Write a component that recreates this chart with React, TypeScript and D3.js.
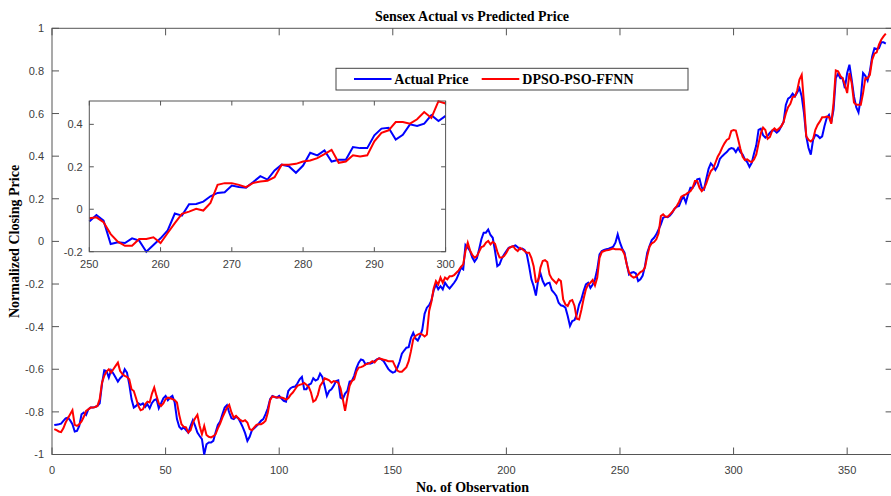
import React from "react";
import * as d3 from "d3";

// observations 1..367, normalized closing price
const actualPrice = [
  -0.862, -0.86, -0.858, -0.855, -0.842, -0.83, -0.827, -0.84, -0.858, -0.892,
  -0.889, -0.866, -0.811, -0.803, -0.814, -0.788, -0.78, -0.78, -0.777, -0.772,
  -0.76, -0.67, -0.605, -0.608, -0.639, -0.605, -0.62, -0.639, -0.658, -0.642,
  -0.631, -0.6, -0.616, -0.67, -0.74, -0.78, -0.772, -0.76, -0.767, -0.76,
  -0.777, -0.764, -0.783, -0.758, -0.745, -0.74, -0.783, -0.76, -0.736, -0.725,
  -0.745, -0.733, -0.725, -0.756, -0.834, -0.87, -0.881, -0.873, -0.886, -0.897,
  -0.866, -0.839, -0.866, -0.897, -0.913, -0.928, -1.0, -0.952, -0.944, -0.944,
  -0.936, -0.897, -0.861, -0.845, -0.811, -0.78, -0.769, -0.803, -0.83, -0.834,
  -0.823, -0.83, -0.85, -0.873, -0.9, -0.936, -0.917, -0.886, -0.877, -0.866,
  -0.855, -0.842, -0.834, -0.811, -0.783, -0.74, -0.725, -0.73, -0.733, -0.725,
  -0.738, -0.748, -0.752, -0.702, -0.689, -0.683, -0.681, -0.667, -0.647, -0.636,
  -0.694, -0.694, -0.673, -0.667, -0.642, -0.653, -0.647, -0.62, -0.636, -0.678,
  -0.725, -0.702, -0.694, -0.678, -0.655, -0.652, -0.733, -0.74, -0.714, -0.702,
  -0.658, -0.655, -0.631, -0.595, -0.569, -0.554, -0.558, -0.577, -0.571, -0.574,
  -0.57, -0.562, -0.554, -0.549, -0.554, -0.562, -0.58, -0.598, -0.609, -0.616,
  -0.612, -0.593, -0.565, -0.527, -0.512, -0.499, -0.496, -0.452, -0.429, -0.455,
  -0.465, -0.444, -0.413, -0.34, -0.311, -0.299, -0.277, -0.23, -0.202, -0.225,
  -0.21, -0.225, -0.194, -0.21, -0.221, -0.208, -0.194, -0.178, -0.152, -0.123,
  -0.131, -0.017, -0.03, -0.045, -0.076, -0.095, -0.08, -0.037, 0.01, 0.041,
  0.041, 0.056, 0.03, 0.017, -0.045, -0.116, -0.108, -0.08, -0.061, -0.045,
  -0.03, -0.026, -0.022, -0.019, -0.027, -0.037, -0.034, -0.04, -0.061, -0.116,
  -0.178, -0.21, -0.254, -0.181, -0.15, -0.186, -0.207, -0.197, -0.194, -0.229,
  -0.241, -0.256, -0.288, -0.3, -0.303, -0.311, -0.35, -0.397, -0.374, -0.369,
  -0.343, -0.296, -0.272, -0.233, -0.202, -0.194, -0.218, -0.202, -0.178, -0.131,
  -0.061, -0.045, -0.04, -0.037, -0.034, -0.03, -0.025, -0.006, 0.033, -0.006,
  -0.034, -0.053, -0.108, -0.155, -0.147, -0.144, -0.15, -0.186, -0.178, -0.16,
  -0.116, -0.053, -0.022, 0.006, 0.017, 0.033, 0.056, 0.08, 0.111, 0.116,
  0.114, 0.122, 0.135, 0.153, 0.163, 0.166, 0.194, 0.21, 0.182, 0.221,
  0.252, 0.252, 0.268, 0.291, 0.294, 0.252, 0.244, 0.294, 0.341, 0.366,
  0.354, 0.335, 0.354, 0.388, 0.4, 0.41, 0.419, 0.432, 0.438, 0.435,
  0.419, 0.438, 0.419, 0.408, 0.385, 0.372, 0.35, 0.369, 0.413, 0.451,
  0.523, 0.529, 0.498, 0.487, 0.495, 0.51, 0.52, 0.52, 0.51, 0.52,
  0.54, 0.56, 0.64, 0.67, 0.677, 0.693, 0.68, 0.699, 0.719, 0.68,
  0.602, 0.493, 0.438, 0.407, 0.477, 0.5, 0.496, 0.485, 0.493, 0.54,
  0.579, 0.593, 0.558, 0.618, 0.766, 0.787, 0.766, 0.766, 0.719, 0.79,
  0.829, 0.759, 0.68, 0.63, 0.605, 0.673, 0.79, 0.777, 0.755, 0.798,
  0.868, 0.906, 0.903, 0.907, 0.934, 0.934, 0.928,
];

const predictedPrice = [
  -0.881, -0.886, -0.892, -0.895, -0.877, -0.85, -0.83, -0.811, -0.792, -0.861,
  -0.866, -0.858, -0.845, -0.823, -0.795, -0.788, -0.78, -0.78, -0.777, -0.772,
  -0.74, -0.663, -0.631, -0.611, -0.6, -0.616, -0.6, -0.584, -0.569, -0.608,
  -0.623, -0.631, -0.636, -0.647, -0.694, -0.702, -0.736, -0.772, -0.792, -0.788,
  -0.764, -0.752, -0.756, -0.714, -0.686, -0.725, -0.76, -0.772, -0.76, -0.74,
  -0.733, -0.736, -0.74, -0.745, -0.756, -0.814, -0.858, -0.87, -0.873, -0.897,
  -0.886, -0.85, -0.83, -0.814, -0.866, -0.905, -0.866, -0.908, -0.917, -0.92,
  -0.914, -0.905, -0.877, -0.855, -0.827, -0.803, -0.78, -0.767, -0.803, -0.827,
  -0.819, -0.83, -0.839, -0.845, -0.839, -0.85, -0.881, -0.886, -0.873, -0.861,
  -0.858, -0.858, -0.852, -0.842, -0.803, -0.745, -0.727, -0.73, -0.733, -0.733,
  -0.733, -0.736, -0.742, -0.736, -0.72, -0.709, -0.694, -0.678, -0.673, -0.67,
  -0.664, -0.673, -0.683, -0.709, -0.752, -0.745, -0.72, -0.678, -0.663, -0.642,
  -0.647, -0.652, -0.663, -0.655, -0.658, -0.663, -0.689, -0.74, -0.795, -0.733,
  -0.678, -0.655, -0.647, -0.611, -0.592, -0.59, -0.585, -0.577, -0.574, -0.57,
  -0.562, -0.568, -0.555, -0.549, -0.552, -0.555, -0.558, -0.562, -0.562, -0.562,
  -0.585, -0.606, -0.612, -0.612, -0.601, -0.59, -0.562, -0.515, -0.46, -0.444,
  -0.437, -0.433, -0.437, -0.446, -0.437, -0.327, -0.283, -0.221, -0.186, -0.202,
  -0.17, -0.194, -0.17, -0.178, -0.163, -0.163, -0.158, -0.147, -0.136, -0.12,
  -0.108, -0.045, -0.006, -0.042, -0.064, -0.076, -0.069, -0.048, -0.026, -0.022,
  -0.006, 0.002, -0.014, -0.002, -0.011, -0.048, -0.076, -0.076, -0.069, -0.053,
  -0.033, -0.026, -0.022, -0.037, -0.045, -0.03, -0.037, -0.045, -0.053, -0.053,
  -0.077, -0.116, -0.19, -0.186, -0.123, -0.092, -0.088, -0.097, -0.155, -0.175,
  -0.186, -0.197, -0.178, -0.186, -0.272, -0.296, -0.303, -0.28, -0.275, -0.303,
  -0.363, -0.366, -0.322, -0.269, -0.225, -0.202, -0.194, -0.181, -0.207, -0.17,
  -0.077, -0.05, -0.045, -0.042, -0.04, -0.037, -0.034, -0.037, -0.037, -0.037,
  -0.04, -0.061, -0.108, -0.147, -0.163, -0.17, -0.166, -0.155, -0.144, -0.139,
  -0.123, -0.069, -0.025, -0.009, -0.003, 0.01, 0.038, 0.119, 0.127, 0.116,
  0.116, 0.127, 0.138, 0.153, 0.166, 0.185, 0.21, 0.216, 0.221, 0.229,
  0.235, 0.252, 0.283, 0.283, 0.252, 0.236, 0.247, 0.272, 0.304, 0.33,
  0.341, 0.369, 0.397, 0.416, 0.44, 0.46, 0.476, 0.482, 0.518, 0.523,
  0.52, 0.479, 0.435, 0.397, 0.382, 0.385, 0.377, 0.372, 0.385, 0.408,
  0.46, 0.507, 0.534, 0.523, 0.482, 0.49, 0.52, 0.53, 0.52, 0.53,
  0.54, 0.56, 0.6, 0.63, 0.646, 0.677, 0.68, 0.708, 0.759, 0.782,
  0.649, 0.493, 0.477, 0.469, 0.48, 0.524, 0.547, 0.563, 0.583, 0.583,
  0.586, 0.583, 0.552, 0.649, 0.802, 0.798, 0.777, 0.766, 0.735, 0.696,
  0.79, 0.743, 0.652, 0.641, 0.641, 0.641, 0.696, 0.766, 0.766, 0.782,
  0.852, 0.881, 0.887, 0.923, 0.946, 0.962, 0.975,
];

// zoomed view, observations 250..300
const insetActual = [
  -0.058, -0.027, -0.054, -0.164, -0.156, -0.159, -0.137, -0.148, -0.2, -0.168,
  -0.137, -0.1, -0.02, -0.03, 0.024, 0.025, 0.036, 0.061, 0.077, 0.08,
  0.112, 0.105, 0.102, 0.128, 0.156, 0.14, 0.183, 0.21, 0.203, 0.172,
  0.206, 0.266, 0.254, 0.277, 0.225, 0.233, 0.233, 0.293, 0.288, 0.288,
  0.348, 0.38, 0.384, 0.328, 0.351, 0.4, 0.392, 0.403, 0.443, 0.416,
  0.44,
];

const insetPredicted = [
  -0.042, -0.038, -0.061, -0.117, -0.153, -0.172, -0.172, -0.14, -0.14, -0.132,
  -0.159, -0.112, -0.065, -0.022, -0.011, 0.002, -0.006, 0.03, 0.115, 0.123,
  0.123, 0.115, 0.104, 0.124, 0.131, 0.134, 0.151, 0.21, 0.21, 0.214,
  0.225, 0.23, 0.241, 0.26, 0.28, 0.219, 0.225, 0.254, 0.249, 0.254,
  0.32, 0.36, 0.372, 0.411, 0.411, 0.403, 0.424, 0.458, 0.43, 0.509,
  0.498,
];

const xTicks = [0, 50, 100, 150, 200, 250, 300, 350];
const yTicks = [-1, -0.8, -0.6, -0.4, -0.2, 0, 0.2, 0.4, 0.6, 0.8, 1];
const insetXTicks = [250, 260, 270, 280, 290, 300];
const insetYTicks = [-0.2, 0, 0.2, 0.4];

const W = 891;
const H = 496;
const axisColor = "#555";
const labelColor = "#404040";
const sans = "'Liberation Sans', Arial, sans-serif";
const serif = "'Liberation Serif', 'Times New Roman', serif";
const lw = 2;

const fmt = (d: number) => `${+d.toFixed(1)}`;

const App = () => {
  const x = d3.scaleLinear().domain([0, 370]).range([52, 892.6]);
  const y = d3.scaleLinear().domain([-1, 1]).range([454.5, 28.3]);
  const ix = d3.scaleLinear().domain([250, 300]).range([89.3, 445.6]);
  const iy = d3.scaleLinear().domain([-0.2, 0.51]).range([251.7, 101]);

  const mainLine = d3
    .line<number>()
    .x((_, i) => x(i + 1))
    .y((d) => y(d));
  const insetLine = d3
    .line<number>()
    .x((_, i) => ix(250 + i))
    .y((d) => iy(d));

  const [x0, x1] = x.range();
  const [y0, y1] = y.range();
  const [ix0, ix1] = ix.range();
  const [iy0, iy1] = iy.range();
  const tick = 7;
  const itick = 4.5;

  return (
    <div style={{ position: "absolute", left: 0, top: 0 }}>
      <svg width={W} height={H} style={{ display: "block", background: "#fff" }}>
        {/* main axes */}
        <g>
          {xTicks.map((t) => (
            <g key={"x" + t}>
              <line x1={x(t)} x2={x(t)} y1={y0} y2={y0 - tick} stroke={axisColor} />
              <line x1={x(t)} x2={x(t)} y1={y1} y2={y1 + tick} stroke={axisColor} />
              <text x={x(t)} y={474} textAnchor="middle" fontFamily={sans} fontSize={11} fill={labelColor}>
                {fmt(t)}
              </text>
            </g>
          ))}
          {yTicks.map((t) => (
            <g key={"y" + t}>
              <line x1={x0} x2={x0 + tick} y1={y(t)} y2={y(t)} stroke={axisColor} />
              <line x1={x1} x2={x1 - tick} y1={y(t)} y2={y(t)} stroke={axisColor} />
              <text x={44} y={y(t)} dy="0.36em" textAnchor="end" fontFamily={sans} fontSize={11} fill={labelColor}>
                {fmt(t)}
              </text>
            </g>
          ))}
          <rect x={x0} y={y1} width={x1 - x0} height={y0 - y1} fill="none" stroke={axisColor} />
        </g>

        <path d={mainLine(actualPrice) ?? ""} fill="none" stroke="#0000ff" strokeWidth={lw} />
        <path d={mainLine(predictedPrice) ?? ""} fill="none" stroke="#ff0000" strokeWidth={lw} />

        {/* titles */}
        <text x={472} y={21} textAnchor="middle" fontFamily={serif} fontWeight="bold" fontSize={14} fill="#000">
          Sensex Actual vs Predicted Price
        </text>
        <text x={472.5} y={492} textAnchor="middle" fontFamily={serif} fontWeight="bold" fontSize={14} fill="#000">
          No. of Observation
        </text>
        <text
          transform="translate(19,241.5) rotate(-90)"
          textAnchor="middle"
          fontFamily={serif}
          fontWeight="bold"
          fontSize={14}
          fill="#000"
        >
          Normalized Closing Price
        </text>

        {/* legend */}
        <g>
          <rect x={336} y={68.3} width={352} height={21.7} fill="#fff" stroke="#444" />
          <line x1={354} x2={391.5} y1={79} y2={79} stroke="#0000ff" strokeWidth={lw} />
          <text x={394.3} y={84} fontFamily={serif} fontWeight="bold" fontSize={14} fill="#000">
            Actual Price
          </text>
          <line x1={481.7} x2={519.3} y1={79} y2={79} stroke="#ff0000" strokeWidth={lw} />
          <text x={522.3} y={84} fontFamily={serif} fontWeight="bold" fontSize={14} fill="#000">
            DPSO-PSO-FFNN
          </text>
        </g>

        {/* inset */}
        <g>
          <rect x={ix0} y={iy1} width={ix1 - ix0} height={iy0 - iy1} fill="#fff" />
          {insetXTicks.map((t) => (
            <g key={"ix" + t}>
              <line x1={ix(t)} x2={ix(t)} y1={iy0} y2={iy0 - itick} stroke={axisColor} />
              <line x1={ix(t)} x2={ix(t)} y1={iy1} y2={iy1 + itick} stroke={axisColor} />
              <text x={ix(t)} y={268} textAnchor="middle" fontFamily={sans} fontSize={11} fill={labelColor}>
                {fmt(t)}
              </text>
            </g>
          ))}
          {insetYTicks.map((t) => (
            <g key={"iy" + t}>
              <line x1={ix0} x2={ix0 + itick} y1={iy(t)} y2={iy(t)} stroke={axisColor} />
              <line x1={ix1} x2={ix1 - itick} y1={iy(t)} y2={iy(t)} stroke={axisColor} />
              <text x={82.7} y={iy(t)} dy="0.36em" textAnchor="end" fontFamily={sans} fontSize={11} fill={labelColor}>
                {fmt(t)}
              </text>
            </g>
          ))}
          <path d={insetLine(insetActual) ?? ""} fill="none" stroke="#0000ff" strokeWidth={lw} />
          <path d={insetLine(insetPredicted) ?? ""} fill="none" stroke="#ff0000" strokeWidth={lw} />
          <rect x={ix0} y={iy1} width={ix1 - ix0} height={iy0 - iy1} fill="none" stroke={axisColor} />
        </g>
      </svg>
    </div>
  );
};

export default App;
